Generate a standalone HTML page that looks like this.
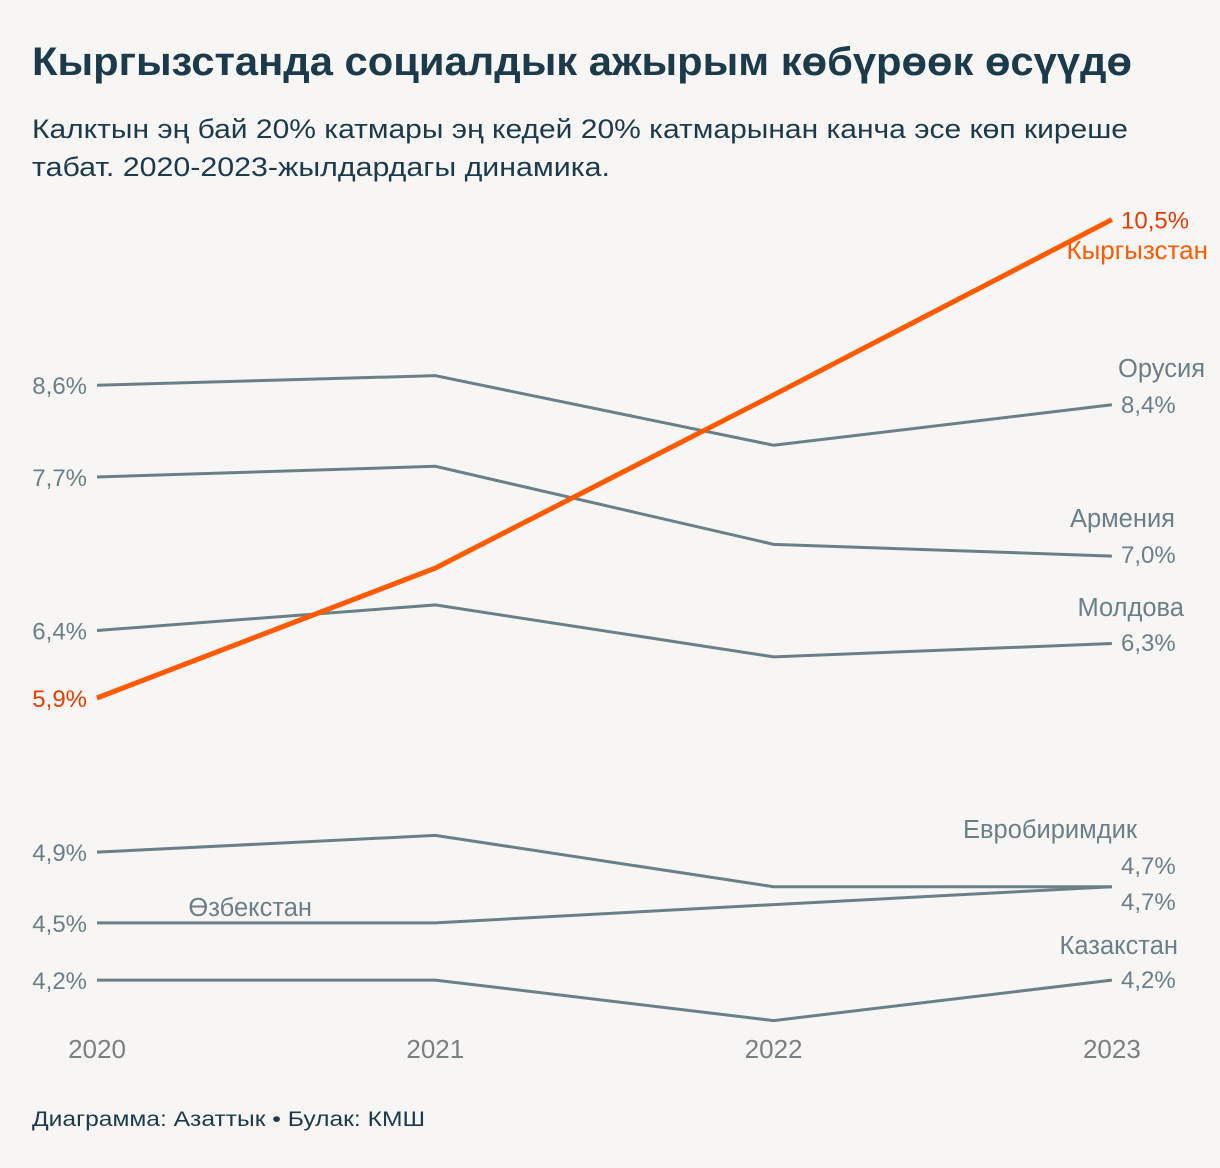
<!DOCTYPE html>
<html><head><meta charset="utf-8"><style>
body{margin:0;background:#f8f6f4;}
svg{display:block;font-family:"Liberation Sans","DejaVu Sans",sans-serif;}
</style></head><body>
<svg id="chart" width="1220" height="1168" viewBox="0 0 1220 1168">
<rect width="1220" height="1168" fill="#f8f6f4"/>
<text x="32" y="75" font-size="40" font-weight="bold" fill="#1b3a4b" textLength="1100" lengthAdjust="spacingAndGlyphs">Кыргызстанда социалдык ажырым көбүрөөк өсүүдө</text>
<text x="32" y="138" font-size="27" fill="#1b3a4b" textLength="1096" lengthAdjust="spacingAndGlyphs">Калктын эң бай 20% катмары эң кедей 20% катмарынан канча эсе көп киреше</text>
<text x="32" y="176" font-size="27" fill="#1b3a4b" textLength="578" lengthAdjust="spacingAndGlyphs">табат. 2020-2023-жылдардагы динамика.</text>
<g id="plot"></g>
<text x="32" y="1126" font-size="21" fill="#1b3a4b" textLength="393" lengthAdjust="spacingAndGlyphs">Диаграмма: Азаттык • Булак: КМШ</text>
</svg>
<script>
const years = ['2020','2021','2022','2023'];
const kyrgyzstan = [5.9, 6.9, 8.5, 10.5];
const russia = [8.6, 8.7, 8.0, 8.4];
const armenia = [7.7, 7.8, 7.1, 7.0];
const moldova = [6.4, 6.6, 6.2, 6.3];
const eu = [4.9, 5.0, 4.7, 4.7];
const uzbekistan = [4.5, 4.5, 4.6, 4.7];
const kazakhstan = [4.2, 4.2, 4.0, 4.2];

const NS='http://www.w3.org/2000/svg';
const g=document.getElementById('plot');
function xS(i){return 97+i*338.3;}
function yS(v){return 698-830*Math.log(v/5.9);}
function fmt(v){return v.toFixed(1).replace('.',',')+'%';}
function txt(name,x,y,s,fill,anchor,size){
  const t=document.createElementNS(NS,'text');
  
  
  t.setAttribute('x',x);t.setAttribute('y',y);t.setAttribute('fill',fill);
  t.setAttribute('font-size',size||22);t.setAttribute('text-anchor',anchor||'start');
  t.textContent=s;g.appendChild(t);return t;
}
years.forEach((yr,i)=>txt('x-tick-'+yr,xS(i),1058,yr,'#7a7f82','middle',26));
const grey='#6b7f88';
const series=[
 {n:'russia',d:russia,label:'Орусия',lx:1205,ly:377,vy:413},
 {n:'armenia',d:armenia,label:'Армения',lx:1175,ly:527,vy:563},
 {n:'moldova',d:moldova,label:'Молдова',lx:1184,ly:616,vy:651},
 {n:'eu',d:eu,label:'Евробиримдик',lx:1137,ly:838,vy:874},
 {n:'uzbekistan',d:uzbekistan,label:'Өзбекстан',lx:312,ly:916,vy:910},
 {n:'kazakhstan',d:kazakhstan,label:'Казакстан',lx:1178,ly:954,vy:988}
];
series.forEach(s=>{
  const p=document.createElementNS(NS,'polyline');
  
  
  p.setAttribute('points',s.d.map((v,i)=>xS(i)+','+yS(v)).join(' '));
  p.setAttribute('fill','none');p.setAttribute('stroke',grey);p.setAttribute('stroke-width',3);
  g.appendChild(p);
  txt('start-value-'+s.n,87,yS(s.d[0])+9,fmt(s.d[0]),grey,'end',24);
  txt('end-value-'+s.n,1121,s.vy,fmt(s.d[3]),grey,'start',24);
  txt('label-'+s.n,s.lx,s.ly,s.label,grey,'end',25.5);
});
const k=document.createElementNS(NS,'polyline');


k.setAttribute('points',kyrgyzstan.map((v,i)=>xS(i)+','+yS(v)).join(' '));
k.setAttribute('fill','none');k.setAttribute('stroke','#ff5a00');k.setAttribute('stroke-width',5);
g.appendChild(k);
txt('start-value-kyrgyzstan',87,yS(kyrgyzstan[0])+9,fmt(kyrgyzstan[0]),'#e63c00','end',24);
txt('end-value-kyrgyzstan',1121,yS(kyrgyzstan[3])+9,fmt(kyrgyzstan[3]),'#e63c00','start',24);
txt('label-kyrgyzstan',1208,259,'Кыргызстан','#ff5a00','end',26);
</script>
</body></html>
